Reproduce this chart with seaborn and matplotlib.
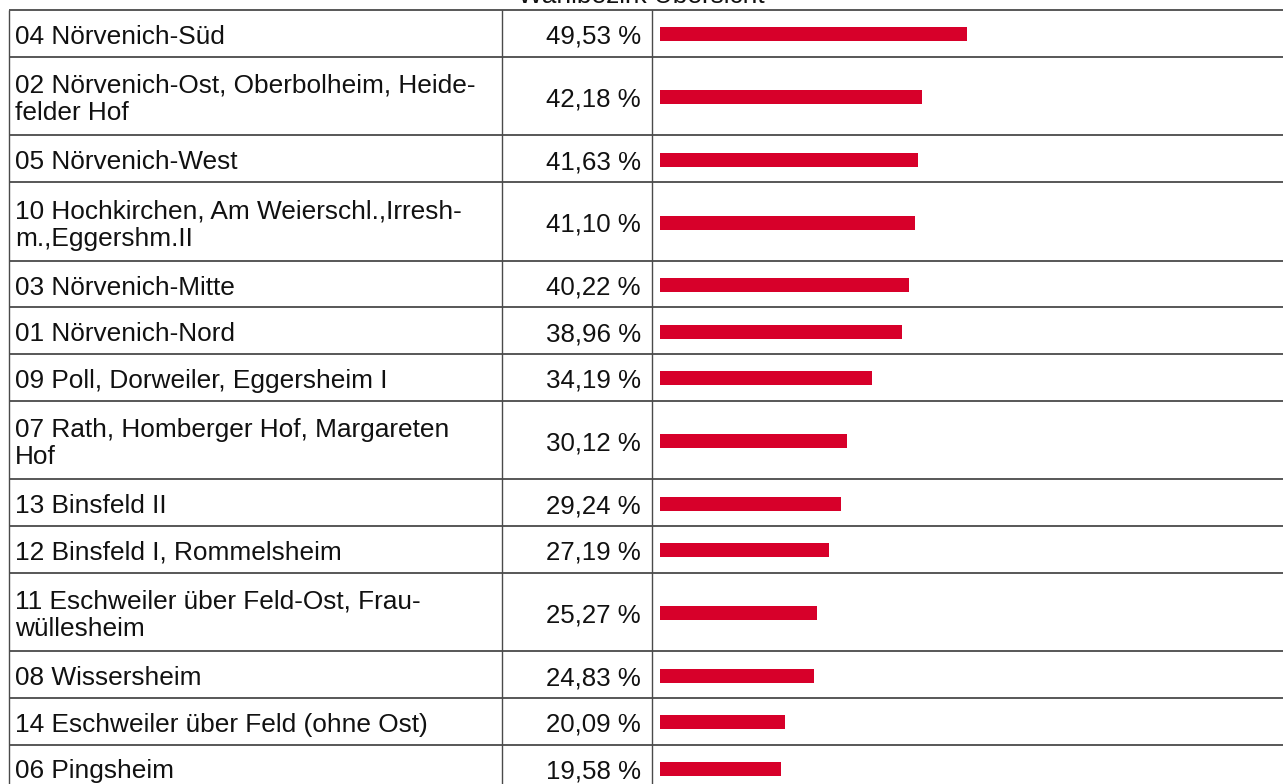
import matplotlib
matplotlib.use("Agg")
import matplotlib.pyplot as plt
import seaborn as sns
import numpy as np
import pandas as pd

# --- data -------------------------------------------------------------
title = "Wahlbezirk Übersicht"
districts = [
    "04 Nörvenich-Süd",
    "02 Nörvenich-Ost, Oberbolheim, Heide-\nfelder Hof",
    "05 Nörvenich-West",
    "10 Hochkirchen, Am Weierschl.,Irresh-\nm.,Eggershm.II",
    "03 Nörvenich-Mitte",
    "01 Nörvenich-Nord",
    "09 Poll, Dorweiler, Eggersheim I",
    "07 Rath, Homberger Hof, Margareten\nHof",
    "13 Binsfeld II",
    "12 Binsfeld I, Rommelsheim",
    "11 Eschweiler über Feld-Ost, Frau-\nwüllesheim",
    "08 Wissersheim",
    "14 Eschweiler über Feld (ohne Ost)",
    "06 Pingsheim",
]
shares = [49.53, 42.18, 41.63, 41.10, 40.22, 38.96, 34.19,
          30.12, 29.24, 27.19, 25.27, 24.83, 20.09, 19.58]

# --- layout (pixel units) ---------------------------------------------
W, H = 1283, 784
TABLE_TOP = 10.0
ROW_H_1 = 46.55          # one text line
ROW_H_2 = 78.9           # two text lines
LINE_GAP = 27.5          # baseline distance inside a cell
X_LEFT, X_COL1, X_COL2 = 9.0, 501.7, 651.7
X_TEXT = 15.0
X_VALUE = 641.0
BAR_X0, BAR_X1 = 660.0, 1280.0
BAR_PX = 14.0
GRID = "#4a4a4a"
RED = "#d7002a"
FONT = "Liberation Sans"
FS_LABEL = 18.9          # points at 100 dpi
FS_VALUE = 18.6

sns.set_theme(style="white")
plt.rcParams["font.family"] = [FONT, "DejaVu Sans"]

n_lines = [d.count("\n") + 1 for d in districts]
heights = np.array([ROW_H_2 if k > 1 else ROW_H_1 for k in n_lines])
bottoms = TABLE_TOP + np.cumsum(heights)
tops = bottoms - heights
centers = (tops + bottoms) / 2

df = pd.DataFrame({"district": districts, "share": shares,
                   "row": centers + 1.2})

fig = plt.figure(figsize=(W / 100, H / 100), dpi=100)
fig.patch.set_facecolor("white")

# table frame and text
ax = fig.add_axes([0, 0, 1, 1])
ax.set_xlim(0, W)
ax.set_ylim(H, 0)
ax.axis("off")

ax.text(641, 3, title, ha="center", va="baseline", fontsize=FS_LABEL,
        color="#111111")

ax.hlines(np.concatenate([[TABLE_TOP], bottoms]), X_LEFT, W + 5,
          color=GRID, lw=1.3)
ax.vlines([X_LEFT, X_COL1, X_COL2], TABLE_TOP, H + 5, color=GRID, lw=1.0)

for name, val, c in zip(districts, shares, centers):
    lines = name.split("\n")
    offs = (np.arange(len(lines)) - (len(lines) - 1) / 2) * LINE_GAP
    for line, o in zip(lines, offs):
        ax.text(X_TEXT, c + o + 1, line, ha="left", va="center_baseline",
                fontsize=FS_LABEL, color="#111111")
    ax.text(X_VALUE, c + 1, f"{val:.2f}".replace(".", ",") + " %",
            ha="right", va="center_baseline", fontsize=FS_VALUE,
            color="#111111")

# bars: share in percent across the last column
bx = fig.add_axes([BAR_X0 / W, 0, (BAR_X1 - BAR_X0) / W, 1])
bx.patch.set_alpha(0)
spacing = np.min(np.diff(np.sort(df["row"].to_numpy())))
sns.barplot(data=df, x="share", y="row", orient="h", native_scale=True,
            width=BAR_PX / spacing, color=RED, saturation=1,
            edgecolor="none", linewidth=0, ax=bx)
bx.set_xlim(0, 100)
bx.set_ylim(H, 0)
bx.axis("off")

fig.savefig("out.png", dpi=100, facecolor="white")
